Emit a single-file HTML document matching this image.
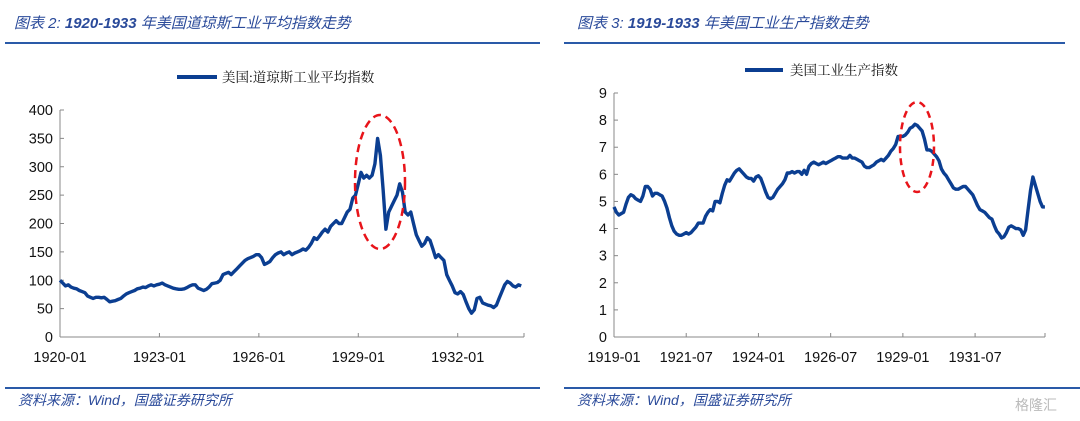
<!DOCTYPE html>
<html><head><meta charset="utf-8">
<style>
body{margin:0;background:#fff;}
svg{display:block;font-family:"Liberation Sans","Noto Sans CJK SC",sans-serif;}
.tk{font-size:14.5px;fill:#111;}
.ttl{font-size:15px;font-style:italic;fill:#2a4a9a;font-family:"Liberation Sans","Noto Sans CJK SC",sans-serif;}
.src{font-size:14px;font-style:italic;fill:#2a4a9a;font-family:"Liberation Sans","Noto Sans CJK SC",sans-serif;}
.lg{font-size:13.5px;fill:#111;font-family:"Liberation Serif","Noto Serif CJK SC",serif;}
</style></head><body>
<svg id="c" width="1080" height="421" viewBox="0 0 1080 421">
<text class="ttl" x="14" y="28">图表 2:  <tspan font-weight="bold">1920-1933</tspan> 年美国道琼斯工业平均指数走势</text>
<rect x="5" y="42" width="535" height="2" fill="#2a5aa8"/>
<text class="ttl" x="577" y="28">图表 3:  <tspan font-weight="bold">1919-1933</tspan> 年美国工业生产指数走势</text>
<rect x="564" y="42" width="501" height="2" fill="#2a5aa8"/>
<rect x="5" y="387" width="535" height="2" fill="#2a5aa8"/>
<rect x="564" y="387" width="516" height="2" fill="#2a5aa8"/>
<text class="src" x="18" y="405">资料来源：Wind，国盛证券研究所</text>
<text class="src" x="577" y="405">资料来源：Wind，国盛证券研究所</text>
<text x="1015" y="410" font-size="14" fill="#bbb">格隆汇</text>
<line x1="177" y1="77" x2="217" y2="77" stroke="#0b3e91" stroke-width="4"/>
<text class="lg" x="222" y="82">美国:道琼斯工业平均指数</text>
<line x1="745" y1="70" x2="783" y2="70" stroke="#0b3e91" stroke-width="4"/>
<text class="lg" x="790" y="75">美国工业生产指数</text>
<g id="L"></g><g id="R"></g>
<ellipse cx="380" cy="182" rx="25" ry="67" fill="none" stroke="#e8141a" stroke-width="2.5" stroke-dasharray="8,5"/>
<ellipse cx="917" cy="147" rx="17" ry="45" fill="none" stroke="#e8141a" stroke-width="2.5" stroke-dasharray="7,5"/>
</svg>
<script>
const djiaStartYear = 1920;
const djiaValues = [
100,95,90,92,88,86,85,82,80,78,72,70,
68,70,70,69,70,66,62,63,64,66,68,72,
76,78,80,82,85,86,88,87,90,92,90,92,
93,95,92,90,88,86,85,84,84,85,87,90,
92,92,86,84,82,84,88,94,95,96,100,110,
112,114,110,115,120,125,130,135,138,140,142,145,
145,140,128,130,133,140,145,148,150,145,148,150,
145,148,150,152,155,153,158,165,175,172,178,185,
190,185,195,200,205,200,200,210,220,225,245,250,
270,290,280,285,280,285,305,350,320,260,190,220,
230,240,250,270,255,220,215,220,200,180,170,160,
165,175,170,155,140,145,140,135,110,100,90,78,
76,80,75,62,50,42,48,68,70,60,58,56,
55,52,56,68,80,92,98,95,90,88,92,90];
const djiaXTicks = ["1920-01","1923-01","1926-01","1929-01","1932-01"];
const djiaYTicks = [0,50,100,150,200,250,300,350,400];

const ipStartYear = 1919;
const ipValues = [
4.8,4.6,4.5,4.55,4.6,4.9,5.15,5.25,5.2,5.1,5.05,5.0,
5.2,5.55,5.55,5.45,5.2,5.3,5.3,5.25,5.2,5.0,4.75,4.4,
4.1,3.9,3.8,3.75,3.75,3.8,3.85,3.8,3.85,3.95,4.05,4.2,
4.2,4.2,4.45,4.6,4.7,4.65,5.0,5.0,4.95,5.3,5.6,5.8,
5.75,5.9,6.05,6.15,6.2,6.1,6.0,5.9,5.85,5.85,5.75,5.9,
5.95,5.85,5.6,5.35,5.15,5.1,5.15,5.3,5.45,5.55,5.65,5.8,
6.05,6.05,6.1,6.05,6.1,6.1,6.0,6.15,6.0,6.3,6.4,6.45,
6.4,6.35,6.4,6.45,6.4,6.45,6.5,6.55,6.6,6.65,6.65,6.6,
6.6,6.6,6.7,6.6,6.6,6.55,6.5,6.45,6.3,6.25,6.25,6.3,
6.35,6.45,6.5,6.55,6.5,6.6,6.7,6.85,6.95,7.1,7.4,7.4,
7.4,7.45,7.55,7.7,7.75,7.85,7.8,7.7,7.6,7.3,6.9,6.9,
6.85,6.75,6.65,6.5,6.2,6.05,5.95,5.8,5.65,5.5,5.45,5.45,
5.5,5.55,5.55,5.45,5.35,5.25,5.05,4.85,4.7,4.65,4.6,4.5,
4.4,4.35,4.1,3.9,3.8,3.65,3.7,3.85,4.05,4.1,4.05,4.0,
4.0,3.95,3.75,3.95,4.7,5.4,5.9,5.6,5.3,5.0,4.8,4.8];
const ipXTicks = ["1919-01","1921-07","1924-01","1926-07","1929-01","1931-07"];
const ipYTicks = [0,1,2,3,4,5,6,7,8,9];

const NS="http://www.w3.org/2000/svg";
function mk(t,a,p){const e=document.createElementNS(NS,t);for(const k in a)e.setAttribute(k,a[k]);p.appendChild(e);return e;}
function draw(g,cfg){
  const {x0,x1,yTop,yBot,startYear,years,vals,xt,yt,yMax}=cfg;
  const xs=m=>x0+(m/12)*(x1-x0)/years;
  const ys=v=>yBot-(v/yMax)*(yBot-yTop);
  const ya=mk('line',{x1:x0,y1:yTop,x2:x0,y2:yBot,stroke:'#888','stroke-width':1},g);
  
  const xa=mk('line',{x1:x0,y1:yBot,x2:x1,y2:yBot,stroke:'#888','stroke-width':1},g);
  
  yt.forEach(v=>{
    const tk=mk('line',{x1:x0,y1:ys(v),x2:x0+4,y2:ys(v),stroke:'#888'},g);
    
    const t=mk('text',{x:x0-7,y:ys(v)+5,'text-anchor':'end',class:'tk'},g);t.textContent=v;
    
  });
  xt.forEach(s=>{
    const [y,m]=s.split('-').map(Number);const mi=(y-startYear)*12+(m-1);const x=xs(mi);
    const tk=mk('line',{x1:x,y1:yBot,x2:x,y2:yBot-4,stroke:'#888'},g);
    
    const t=mk('text',{x:x,y:yBot+25,'text-anchor':'middle',class:'tk'},g);t.textContent=s;
    
  });
  const et=mk('line',{x1:x1,y1:yBot,x2:x1,y2:yBot-4,stroke:'#888'},g);
  
  const d=vals.map((v,i)=>(i?'L':'M')+xs(i).toFixed(1)+','+ys(v).toFixed(1)).join('');
  const p=mk('path',{d:d,fill:'none',stroke:'#0b3e91','stroke-width':3.4,'stroke-linejoin':'round'},g);
  
}
draw(document.getElementById('L'),{x0:60,x1:524,yTop:110,yBot:337,startYear:djiaStartYear,years:14,vals:djiaValues,xt:djiaXTicks,yt:djiaYTicks,yMax:400});
draw(document.getElementById('R'),{x0:614,x1:1045,yTop:93,yBot:337,startYear:ipStartYear,years:14.92,vals:ipValues,xt:ipXTicks,yt:ipYTicks,yMax:9});
</script>
</body></html>
